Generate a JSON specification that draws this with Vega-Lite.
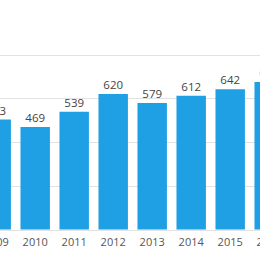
{
  "$schema": "https://vega.github.io/schema/vega-lite/v6.json",
  "autosize": "none",
  "padding": {"left": 0, "top": 0, "right": 0, "bottom": 30.5},
  "width": 260,
  "height": 229.5,
  "config": {"view": {"stroke": null}, "font": "Open Sans"},
  "data": {"values": [
    {"year": "2009", "value": 503},
    {"year": "2010", "value": 469},
    {"year": "2011", "value": 539},
    {"year": "2012", "value": 620},
    {"year": "2013", "value": 579},
    {"year": "2014", "value": 612},
    {"year": "2015", "value": 642},
    {"year": "2016", "value": 675}
  ]},
  "encoding": {
    "x": {"field": "year", "type": "ordinal",
      "scale": {"range": [-23.3, 288.7], "paddingInner": 0.245, "paddingOuter": 0.1225},
      "axis": {"title": null, "ticks": false, "domain": false, "labelAngle": 0, "labelPadding": 7, "labelFontSize": 11, "labelColor": "#555555", "labelFont": "Open Sans"}},
    "y": {"field": "value", "type": "quantitative",
      "scale": {"domain": [0, 1050], "nice": false},
      "axis": {"title": null, "labels": false, "ticks": false, "domain": false, "values": [0, 200, 400, 600, 800], "gridColor": "#e2e2e2", "gridWidth": 1}}
  },
  "layer": [
    {"mark": {"type": "bar", "color": "#1fa0e4"}},
    {"mark": {"type": "text", "baseline": "bottom", "dy": -3, "fontSize": 11.5, "color": "#444444", "font": "Open Sans"},
     "encoding": {"text": {"field": "value", "type": "quantitative"}}}
  ]
}
